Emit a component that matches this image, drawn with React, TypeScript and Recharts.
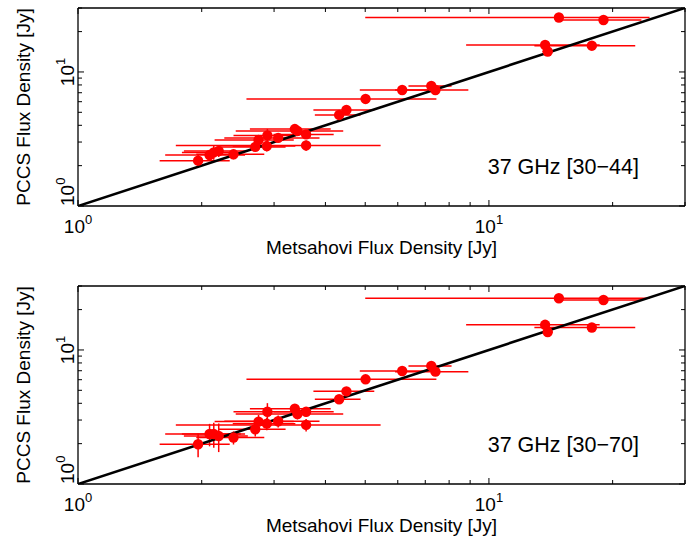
import React from "react";
import { ScatterChart, Scatter, XAxis, YAxis, ErrorBar, ReferenceDot } from "recharts";

// Metsahovi flux density (x) shared by both panels
const metsahovi = [1.96, 2.09, 2.14, 2.2, 2.39, 2.7, 2.75, 2.89, 2.88, 3.07, 3.37, 3.42, 3.59, 3.59, 4.32, 4.5, 5.01, 6.15, 7.24, 7.41, 13.7, 13.9, 17.8, 14.8, 19.0];
const metsahoviErr = [0.38, 0.46, 0.35, 0.39, 0.45, 0.5, 0.6, 0.5, 0.5, 0.8, 0.75, 1.0, 0.6, 1.86, 0.55, 0.76, 2.44, 1.3, 0.87, 1.5, 4.9, 0.4, 4.9, 9.8, 4.5];

// PCCS 37 GHz, band [30-44]
const pccs44 = [2.18, 2.4, 2.51, 2.57, 2.43, 2.76, 3.11, 3.36, 2.8, 3.22, 3.75, 3.63, 3.42, 2.83, 4.78, 5.2, 6.29, 7.34, 7.86, 7.34, 15.9, 14.2, 15.7, 25.5, 24.4];
const pccs44Err = [0.25, 0.2, 0.3, 0.25, 0.2, 0.2, 0.25, 0.4, 0.25, 0.2, 0.2, 0.2, 0.2, 0.25, 0.3, 0.3, 0.4, 0.4, 0.4, 0.4, 1.0, 1.0, 1.0, 1.5, 1.5];

// PCCS 37 GHz, band [30-70]
const pccs70 = [1.98, 2.36, 2.36, 2.28, 2.22, 2.56, 2.92, 3.46, 2.82, 2.94, 3.64, 3.33, 3.46, 2.76, 4.29, 4.91, 6.04, 6.97, 7.6, 6.89, 15.4, 13.6, 14.7, 24.3, 23.6];
const pccs70Err = [0.4, 0.45, 0.5, 0.55, 0.25, 0.3, 0.35, 0.55, 0.3, 0.3, 0.3, 0.3, 0.3, 0.3, 0.3, 0.3, 0.4, 0.4, 0.4, 0.4, 1.0, 1.0, 1.0, 1.5, 1.5];

const logTicks = [1, 2, 3, 4, 5, 6, 7, 8, 9, 10, 20, 30];
const majorTicks = [1, 10];
const diagonal = [{ x: 1, y: 1 }, { x: 30, y: 30 }];

const FONT = "'Liberation Sans', Arial, Helvetica, sans-serif";
const RED = "#ff0000";
const axisStyle = { stroke: "#000", strokeWidth: 1.3 };

const tickLen = (v: number) => (majorTicks.includes(v) ? 6 : 4);

function BottomTick({ x, y, payload }: any) {
  const v = payload.value;
  return (
    <g>
      <line x1={x} y1={y} x2={x} y2={y - tickLen(v)} stroke="#000" strokeWidth={1} />
      {majorTicks.includes(v) && (
        <text x={x} y={y + 27} textAnchor="middle" fontSize={19} fontFamily={FONT} fill="#000">
          10
          <tspan dy={-9} fontSize={13}>{Math.round(Math.log10(v))}</tspan>
        </text>
      )}
    </g>
  );
}

function LeftTick({ x, y, payload }: any) {
  const v = payload.value;
  const tx = x - 4;
  return (
    <g>
      <line x1={x} y1={y} x2={x + tickLen(v)} y2={y} stroke="#000" strokeWidth={1} />
      {majorTicks.includes(v) && (
        <text
          x={tx}
          y={y}
          transform={`rotate(-90, ${tx}, ${y})`}
          textAnchor={v === 1 ? "start" : "middle"}
          fontSize={19}
          fontFamily={FONT}
          fill="#000"
        >
          10
          <tspan dy={-9} fontSize={13}>{Math.round(Math.log10(v))}</tspan>
        </text>
      )}
    </g>
  );
}

function TopTick({ x, y, payload }: any) {
  return <line x1={x} y1={y} x2={x} y2={y + tickLen(payload.value)} stroke="#000" strokeWidth={1} />;
}

function RightTick({ x, y, payload }: any) {
  return <line x1={x} y1={y} x2={x - tickLen(payload.value)} y2={y} stroke="#000" strokeWidth={1} />;
}

function XTitle({ viewBox }: any) {
  return (
    <text x={viewBox.x + viewBox.width / 2} y={viewBox.y + 48} textAnchor="middle" fontSize={19} fontFamily={FONT} fill="#000">
      Metsahovi Flux Density [Jy]
    </text>
  );
}

function YTitle({ viewBox }: any) {
  const cx = viewBox.x + viewBox.width - 48.5;
  const cy = viewBox.y + viewBox.height / 2;
  return (
    <text x={cx} y={cy} transform={`rotate(-90, ${cx}, ${cy})`} textAnchor="middle" fontSize={19} fontFamily={FONT} fill="#000">
      PCCS Flux Density [Jy]
    </text>
  );
}

function BandLabel({ viewBox, text }: any) {
  return (
    <text x={viewBox.x} y={viewBox.y} fontSize={21.5} fontFamily={FONT} fill="#000">
      {text}
    </text>
  );
}

const dot = (p: any) => <circle cx={p.cx} cy={p.cy} r={5.2} fill={RED} />;

function FluxPanel({ yValues, yErrors, band, height, top, bottom }: any) {
  const data = metsahovi.map((x, i) => ({ x, y: yValues[i], ex: metsahoviErr[i], ey: yErrors[i] }));
  return (
    <ScatterChart width={696} height={height} margin={{ top: top - 1, right: 10, bottom: bottom - 1, left: 77 }}>
      <XAxis xAxisId="b" type="number" dataKey="x" scale="log" domain={[1, 30]} allowDataOverflow ticks={logTicks} interval={0}
        height={1} tickSize={0} tickMargin={0} tickLine={false} tick={<BottomTick />} axisLine={axisStyle} label={<XTitle />} />
      <XAxis xAxisId="t" orientation="top" type="number" dataKey="x" scale="log" domain={[1, 30]} allowDataOverflow ticks={logTicks} interval={0}
        height={1} tickSize={0} tickMargin={0} tickLine={false} tick={<TopTick />} axisLine={axisStyle} />
      <YAxis yAxisId="l" type="number" dataKey="y" scale="log" domain={[1, 30]} allowDataOverflow ticks={logTicks} interval={0}
        width={1} tickSize={0} tickMargin={0} tickLine={false} tick={<LeftTick />} axisLine={axisStyle} label={<YTitle />} />
      <YAxis yAxisId="r" orientation="right" type="number" dataKey="y" scale="log" domain={[1, 30]} allowDataOverflow ticks={logTicks} interval={0}
        width={1} tickSize={0} tickMargin={0} tickLine={false} tick={<RightTick />} axisLine={axisStyle} />
      <Scatter data={diagonal} xAxisId="t" yAxisId="r" line={{ stroke: "#000", strokeWidth: 2.6 }} shape={() => <g />} isAnimationActive={false} />
      <Scatter data={data} xAxisId="b" yAxisId="l" shape={dot} isAnimationActive={false}>
        <ErrorBar dataKey="ex" direction="x" width={0} stroke={RED} strokeWidth={1.5} isAnimationActive={false} />
        <ErrorBar dataKey="ey" direction="y" width={0} stroke={RED} strokeWidth={1.5} isAnimationActive={false} />
      </Scatter>
      <ReferenceDot xAxisId="b" yAxisId="l" x={9.93} y={1.73} r={0} fill="none" stroke="none" label={<BandLabel text={band} />} />
    </ScatterChart>
  );
}

export default function App() {
  return (
    <div style={{ position: "absolute", left: 0, top: 0, width: 696, height: 537, background: "#fff" }}>
      <FluxPanel yValues={pccs44} yErrors={pccs44Err} band="37 GHz [30−44]" height={270} top={8} bottom={64} />
      <FluxPanel yValues={pccs70} yErrors={pccs70Err} band="37 GHz [30−70]" height={267} top={16} bottom={53} />
    </div>
  );
}
